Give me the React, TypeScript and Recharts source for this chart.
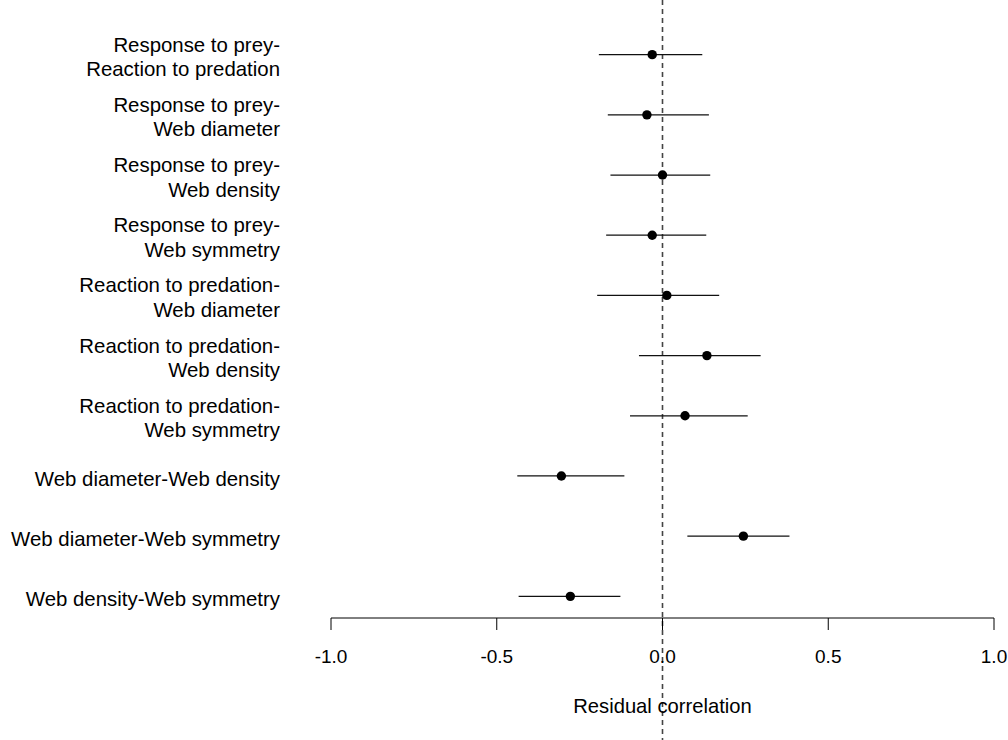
import React from 'react';
import { ScatterChart, Scatter, XAxis, YAxis, ErrorBar, ReferenceLine } from 'recharts';

const pairLabels: string[] = [
  'Response to prey-\nReaction to predation',
  'Response to prey-\nWeb diameter',
  'Response to prey-\nWeb density',
  'Response to prey-\nWeb symmetry',
  'Reaction to predation-\nWeb diameter',
  'Reaction to predation-\nWeb density',
  'Reaction to predation-\nWeb symmetry',
  'Web diameter-Web density',
  'Web diameter-Web symmetry',
  'Web density-Web symmetry',
];
const estimates: number[] = [-0.031, -0.047, 0.0, -0.031, 0.013, 0.134, 0.068, -0.305, 0.244, -0.278];
const lowerCI: number[] = [-0.192, -0.165, -0.157, -0.17, -0.197, -0.071, -0.098, -0.438, 0.075, -0.434];
const upperCI: number[] = [0.12, 0.14, 0.144, 0.132, 0.171, 0.296, 0.257, -0.115, 0.383, -0.127];
const xTicks: number[] = [-1, -0.5, 0, 0.5, 1];

const data = pairLabels.map((label, i) => ({
  row: i + 1,
  label,
  est: estimates[i],
  err: [estimates[i] - lowerCI[i], upperCI[i] - estimates[i]],
}));

const FONT = 'Liberation Sans, Arial, Helvetica, sans-serif';

const YTick = (props: any) => {
  const { x, y, payload } = props;
  const idx = Math.round(payload.value) - 1;
  const label = pairLabels[idx];
  if (!label) return null;
  const lines = label.split('\n');
  if (lines.length === 1) {
    return (
      <text x={x} y={y + 10} textAnchor="end" fontSize={20.4} fontFamily={FONT} fill="#000">
        {lines[0]}
      </text>
    );
  }
  return (
    <text textAnchor="end" fontSize={20.4} fontFamily={FONT} fill="#000">
      <tspan x={x} y={y - 3}>{lines[0]}</tspan>
      <tspan x={x} y={y + 21.5}>{lines[1]}</tspan>
    </text>
  );
};

const DashedZero = (p: any) => (
  <line x1={p.x1} x2={p.x2} y1={0} y2={740} stroke="#444" strokeWidth={1.6} strokeDasharray="5 4" />
);

const Dot = (p: any) => <circle cx={p.cx} cy={p.cy} r={4.7} fill="#000" />;

export default function App() {
  return (
    <div style={{ position: 'absolute', left: 0, top: 0, background: '#fff' }}>
      <ScatterChart width={1008} height={740} margin={{ top: 33, right: 14, bottom: 0, left: 0 }}>
        <XAxis
          type="number"
          dataKey="est"
          domain={[-1, 1]}
          ticks={xTicks}
          allowDataOverflow
          tickFormatter={(v: number) => v.toFixed(1)}
          tickSize={12}
          tickMargin={20}
          height={122}
          stroke="#000"
          tick={{ fill: '#000', fontSize: 19, fontFamily: FONT }}
          label={{ value: 'Residual correlation', position: 'insideBottom', offset: 27, fill: '#000', fontSize: 20.2, fontFamily: FONT }}
        />
        <YAxis
          type="number"
          dataKey="row"
          domain={[0.64, 10.36]}
          reversed
          allowDataOverflow
          ticks={[1, 2, 3, 4, 5, 6, 7, 8, 9, 10]}
          width={331}
          axisLine={false}
          tickLine={false}
          tickSize={0}
          tickMargin={51}
          tick={<YTick />}
        />
        <ReferenceLine x={0} shape={DashedZero} />
        <Scatter data={data} isAnimationActive={false} shape={Dot}>
          <ErrorBar dataKey="err" direction="x" width={0} stroke="#111" strokeWidth={1.2} isAnimationActive={false} />
        </Scatter>
      </ScatterChart>
    </div>
  );
}
